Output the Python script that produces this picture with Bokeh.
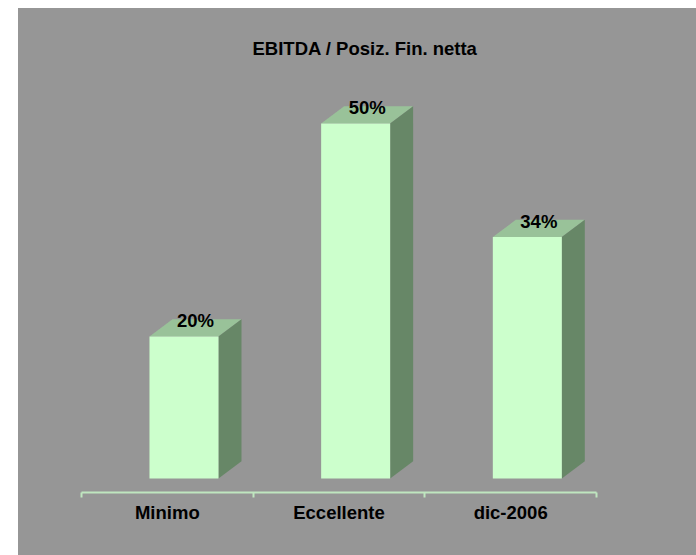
from bokeh.plotting import figure
from bokeh.layouts import row, column
from bokeh.models import Spacer, Range1d, FixedTicker
from bokeh.core.properties import value
from bokeh.embed import file_html
from bokeh.resources import INLINE

# ---- data ----
TITLE = "EBITDA / Posiz. Fin. netta"
categories = ["Minimo", "Eccellente", "dic-2006"]
values = [20, 50, 34]
value_labels = ["20%", "50%", "34%"]

# ---- style ----
GRAY = "#969696"
FRONT = "#CCFFCC"
TOP = "#99C299"
SIDE = "#678767"
AXIS = "#BFE6BF"
FONT = "Liberation Sans"
FS = "18.5px"

# ---- layout (pixels) ----
PX_PER_CAT = 171.7
PX_PER_PCT = 7.1
FRAME_H = 422
ZERO_ABOVE_FRAME_BOTTOM = 14
y_min = -ZERO_ABOVE_FRAME_BOTTOM / PX_PER_PCT
y_max = (FRAME_H - ZERO_ABOVE_FRAME_BOTTOM) / PX_PER_PCT

FRONT_L, FRONT_R = 0.396, 0.798
DX = 23 / PX_PER_CAT
DY = 17.3 / PX_PER_PCT
LABEL_RISE = 16 / PX_PER_PCT

p = figure(width=678, height=547, x_range=Range1d(0, len(categories)),
           y_range=Range1d(y_min, y_max), output_backend="svg",
           toolbar_location=None, min_border_left=63, min_border_right=100,
           min_border_top=62, min_border_bottom=63,
           background_fill_color=None, border_fill_color=None,
           outline_line_color=None, title=TITLE)
p.styles = {"background-color": GRAY}

p.title.align = "left"
p.title.offset = 171
p.title.standoff = 23
p.title.text_font = FONT
p.title.text_font_size = FS
p.title.text_font_style = "bold"
p.title.text_color = "black"

p.yaxis.visible = False
p.grid.visible = False

xs_idx = list(range(len(categories)))
lefts = [i + FRONT_L for i in xs_idx]
rights = [i + FRONT_R for i in xs_idx]

# top faces
top_xs = [[l, r, r + DX, l + DX] for l, r in zip(lefts, rights)]
top_ys = [[v, v, v + DY, v + DY] for v in values]
p.patches(top_xs, top_ys, fill_color=TOP, line_color=None)

# side faces
side_xs = [[r, r + DX, r + DX, r] for r in rights]
side_ys = [[0, DY, v + DY, v] for v in values]
p.patches(side_xs, side_ys, fill_color=SIDE, line_color=None)

# front faces
p.quad(left=lefts, right=rights, bottom=0, top=values,
       fill_color=FRONT, line_color=None)

# value labels
lab_x = [i + (FRONT_L + FRONT_R) / 2 + DX / 2 for i in xs_idx]
lab_y = [v + LABEL_RISE for v in values]
p.text(x=lab_x, y=lab_y, text=value_labels, text_align="center",
       text_baseline="alphabetic", text_font=value(FONT),
       text_font_size=value(FS), text_font_style="bold", text_color="black")

# category axis
ax = p.xaxis[0]
ax.ticker = FixedTicker(ticks=[i + 0.5 for i in xs_idx],
                        minor_ticks=list(range(len(categories) + 1)))
ax.major_label_overrides = {i + 0.5: c for i, c in zip(xs_idx, categories)}
ax.major_tick_line_color = None
ax.major_tick_out = 0
ax.major_tick_in = 0
ax.minor_tick_line_color = AXIS
ax.minor_tick_line_width = 2
ax.minor_tick_out = 5
ax.minor_tick_in = 0
ax.axis_line_color = AXIS
ax.axis_line_width = 2
ax.major_label_standoff = 4
ax.major_label_text_font = FONT
ax.major_label_text_font_size = FS
ax.major_label_text_font_style = "bold"
ax.major_label_text_color = "black"

layout = column(Spacer(width=696, height=8),
                row(Spacer(width=18, height=547), p))
open("out.html", "w").write(file_html(layout, INLINE))
